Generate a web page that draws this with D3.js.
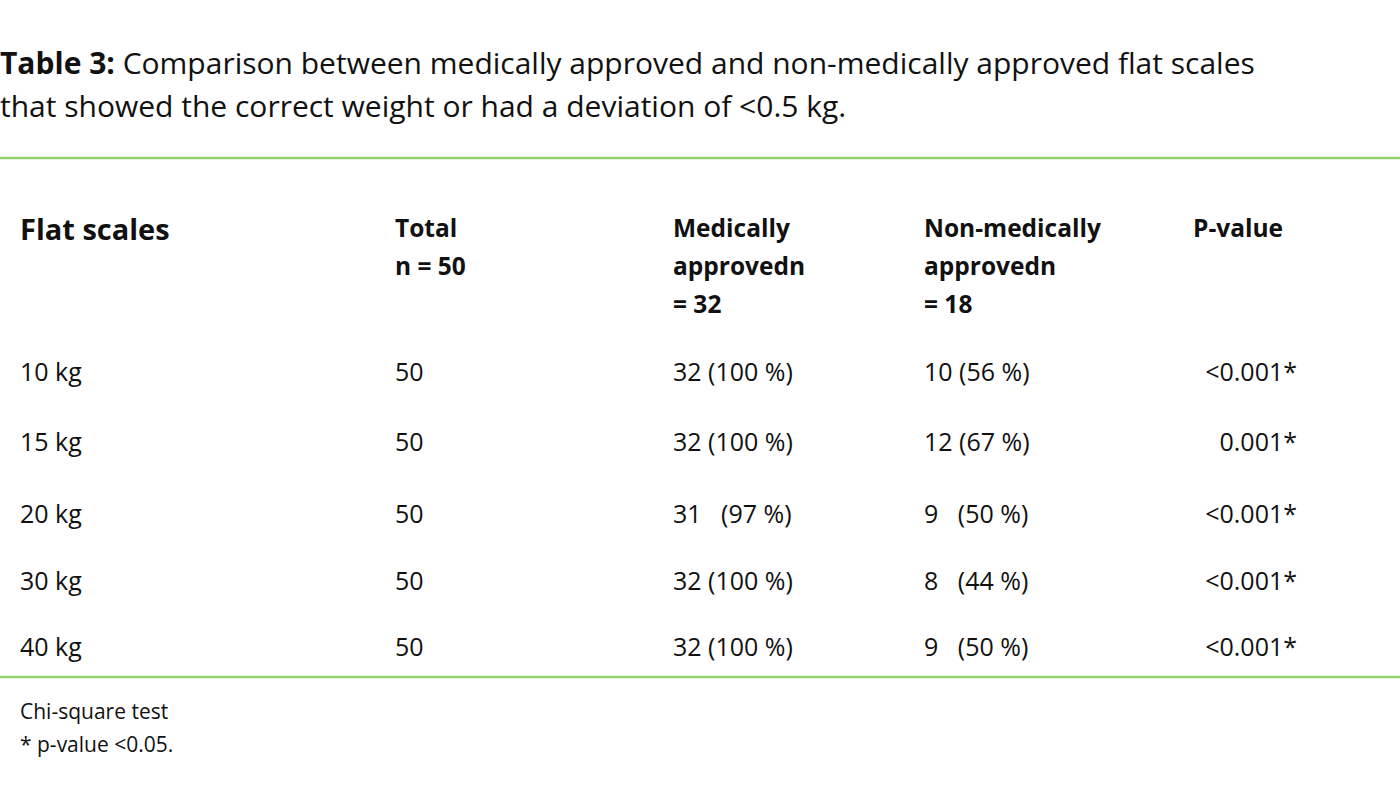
<!DOCTYPE html>
<html>
<head>
<meta charset="utf-8">
<script src="https://cdn.jsdelivr.net/npm/d3@7"></script>
<style>
  body { margin: 0; background: #fff; }
  text { font-family: "Open Sans", Lato, sans-serif; fill: #111; white-space: pre; }
</style>
</head>
<body>
<svg></svg>
<script>
const titleBold = "Table 3:";
const titleLines = [" Comparison between medically approved and non-medically approved flat scales",
  "that showed the correct weight or had a deviation of <0.5 kg."];
const headers = [["Flat scales"], ["Total", "n = 50"], ["Medically", "approvedn", "= 32"],
  ["Non-medically", "approvedn", "= 18"], ["P-value"]];
const scales = ["10 kg", "15 kg", "20 kg", "30 kg", "40 kg"];
const totals = ["50", "50", "50", "50", "50"];
const medical = ["32 (100 %)", "32 (100 %)", "31   (97 %)", "32 (100 %)", "32 (100 %)"];
const nonMedical = ["10 (56 %)", "12 (67 %)", "9   (50 %)", "8   (44 %)", "9   (50 %)"];
const pValues = ["<0.001*", "0.001*", "<0.001*", "<0.001*", "<0.001*"];
const notes = ["Chi-square test", "* p-value <0.05."];

const width = 1400, height = 786;
const svg = d3.select("svg").attr("width", width).attr("height", height);

const colX = [20, 395, 673, 924, 1297];
const rowYs = [381, 451, 523, 590, 656];

const t1 = svg.append("text").attr("x", 0).attr("y", 74).attr("font-size", 30);
t1.append("tspan").attr("font-weight", "bold").text(titleBold);
t1.append("tspan").text(titleLines[0]);
svg.append("text").attr("x", 0).attr("y", 117).attr("font-size", 30).text(titleLines[1]);

svg.append("line").attr("x1", 0).attr("x2", width).attr("y1", 158).attr("y2", 158)
  .attr("stroke", "#92d36e").attr("stroke-width", 2.5);
svg.append("line").attr("x1", 0).attr("x2", width).attr("y1", 677).attr("y2", 677)
  .attr("stroke", "#92d36e").attr("stroke-width", 2.5);

headers.forEach((lines, i) => {
  lines.forEach((l, j) => {
    svg.append("text")
      .attr("x", i === 4 ? 1193 : colX[i])
      .attr("y", (i === 0 ? 240 : 237) + j * 38)
      .attr("font-size", i === 0 ? 29 : 24.5)
      .attr("font-weight", "bold")
      .text(l);
  });
});

const cols = [scales, totals, medical, nonMedical, pValues];
cols.forEach((col, i) => {
  svg.selectAll(null).data(col).join("text")
    .attr("x", colX[i])
    .attr("y", (d, k) => rowYs[k])
    .attr("text-anchor", i === 4 ? "end" : "start")
    .attr("font-size", 25)
    .text(d => d);
});

notes.forEach((n, i) => {
  svg.append("text").attr("x", 20).attr("y", 719 + i * 33).attr("font-size", 21).text(n);
});
</script>
</body>
</html>
